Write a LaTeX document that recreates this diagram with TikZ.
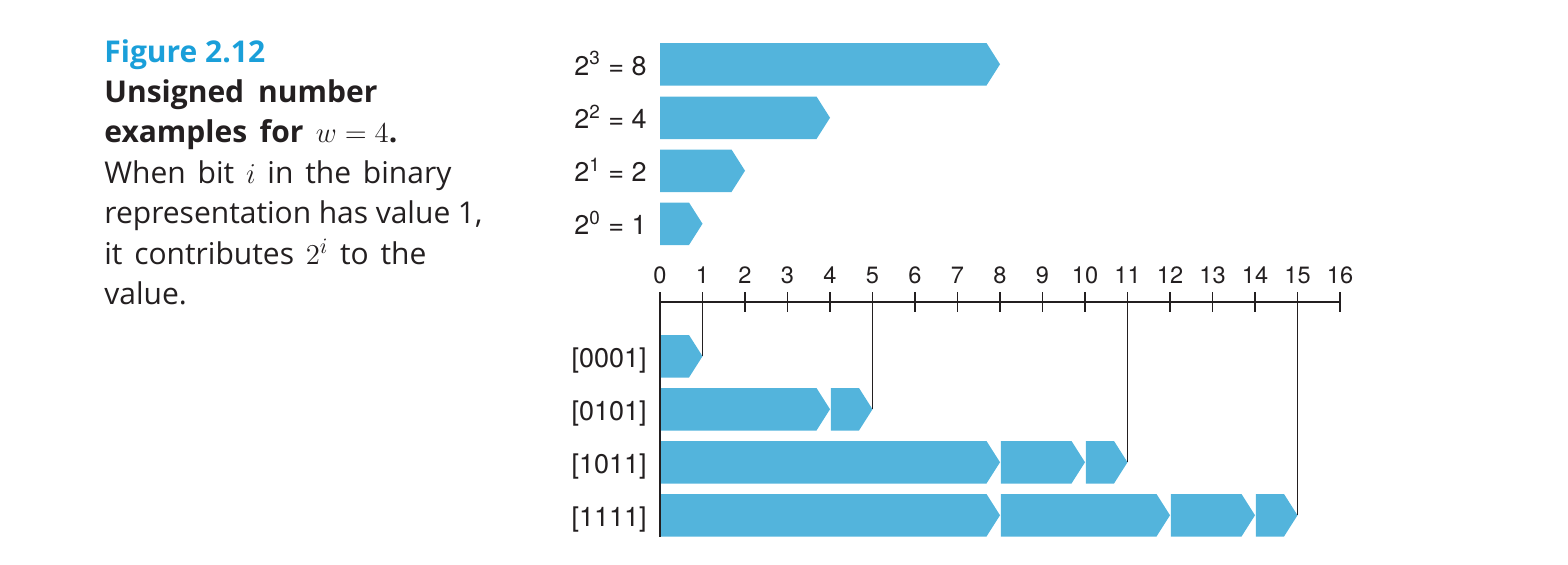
\documentclass[tikz,border=0pt]{standalone}
\usepackage{fontspec}
\setmainfont{Open Sans}
\newfontfamily\helv{TeX Gyre Heros}
\definecolor{barblue}{HTML}{53B4DC}
\definecolor{figblue}{HTML}{1A9FD9}
\definecolor{ink}{HTML}{231F20}
% chevron segment: #1 start value, #2 end value, #3 top y (px)
\newcommand\chevseg[3]{%
  \fill[barblue] ({660+42.5*#1},#3) -- ({660+42.5*#2-13.5},#3) -- ({660+42.5*#2},{#3+21.25})
    -- ({660+42.5*#2-13.5},{#3+42.5}) -- ({660+42.5*#1},{#3+42.5}) -- cycle;}
\tikzset{
  sidelabel/.style={anchor=base east, inner sep=0pt, text=ink, font=\helv\fontsize{13.5}{16}\selectfont},
  ticklabel/.style={anchor=base, inner sep=0pt, text=ink, font=\helv\fontsize{11.8}{14}\selectfont},
  capline/.style={anchor=base west, inner sep=0pt, text=ink, font=\fontsize{15}{20}\selectfont},
  capbold/.style={capline, font=\bfseries\fontsize{15}{20}\selectfont},
  axisline/.style={draw=ink, line width=0.8pt},
  leader/.style={draw=ink, line width=0.8pt},
}
\begin{document}
\begin{tikzpicture}[x=0.5pt,y=-0.5pt]
\useasboundingbox (0,0) rectangle (1568,564);
% caption
\node[capbold, text=figblue] (cap0) at (104,62) {Figure 2.12};
\node[capbold] (cap1) at (104,102) {\makebox[136.5pt][s]{Unsigned number}};
\node[capbold] (cap2) at (104,142) {\makebox[146.5pt][s]{examples for \mbox{$w=4$}.}};
\node[capline] (cap3) at (104,183) {\makebox[173.5pt][s]{When bit \mbox{$i$} in the binary}};
\node[capline] (cap4) at (104,223) {\makebox[189pt][s]{representation has value 1,}};
\node[capline] (cap5) at (104,264) {\makebox[161pt][s]{it contributes \mbox{$2^i$} to the}};
\node[capline] (cap6) at (104,304) {value.};
% top bars
\chevseg{0}{8}{43}
\chevseg{0}{4}{96.5}
\chevseg{0}{2}{149.5}
\chevseg{0}{1}{202.5}
\node[sidelabel] (l3) at (647,75) {2\textsuperscript{3} = 8};
\node[sidelabel] (l2) at (647,128.5) {2\textsuperscript{2} = 4};
\node[sidelabel] (l1) at (647,181.5) {2\textsuperscript{1} = 2};
\node[sidelabel] (l0) at (647,234.5) {2\textsuperscript{0} = 1};
% axis
\foreach \k in {0,...,16} {
  \coordinate (t\k) at ({660+42.5*\k},302);
  \coordinate (tu\k) at ({660+42.5*\k},292);
  \coordinate (td\k) at ({660+42.5*\k},312);
  \draw[axisline] (tu\k) -- (td\k);
  \node[ticklabel] (n\k) at ({660+42.5*\k},283) {\k};
}
\draw[axisline] (t0) -- (t16);
% bottom bars
\chevseg{0}{1}{335}
\chevseg{0}{4}{388}
\chevseg{4.02}{5}{388}
\chevseg{0}{8}{441}
\chevseg{8.02}{10}{441}
\chevseg{10.02}{11}{441}
\chevseg{0}{8}{494}
\chevseg{8.02}{12}{494}
\chevseg{12.02}{14}{494}
\chevseg{14.02}{15}{494}
\node[sidelabel] (b1) at (647,367) {[0001]};
\node[sidelabel] (b2) at (647,420) {[0101]};
\node[sidelabel] (b3) at (647,473) {[1011]};
\node[sidelabel] (b4) at (647,526) {[1111]};
% leaders
\coordinate (e0) at (660,537);
\coordinate (e1) at (702.5,356.25);
\coordinate (e5) at (872.5,409.25);
\coordinate (e11) at (1127.5,462.25);
\coordinate (e15) at (1297.5,515.25);
\draw[leader] (td0) -- (e0);
\draw[leader] (td1) -- (e1);
\draw[leader] (td5) -- (e5);
\draw[leader] (td11) -- (e11);
\draw[leader] (td15) -- (e15);
\end{tikzpicture}
\end{document}
